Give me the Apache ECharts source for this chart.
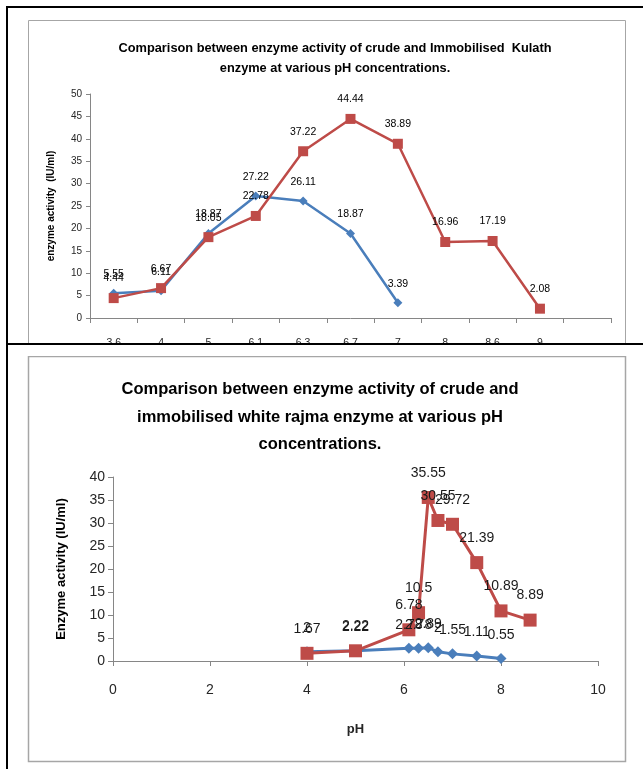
<!DOCTYPE html>
<html>
<head>
<meta charset="utf-8">
<script src="https://cdn.jsdelivr.net/npm/echarts@6/dist/echarts.min.js"></script>
<style>
html,body{margin:0;padding:0;background:#fff;}
#main{width:643px;height:769px;}
</style>
</head>
<body>
<div id="main"></div>
<script>
// chart 1 : kulath
var phKulath = ['3.6','4','5','6.1','6.3','6.7','7','8','8.6','9',''];
var crudeKulath = [5.55, 6.11, 18.87, 27.22, 26.11, 18.87, 3.39];
var immobKulath = [4.44, 6.67, 18.05, 22.78, 37.22, 44.44, 38.89, 16.96, 17.19, 2.08];

// chart 2 : white rajma
var phRajmaCrude = [4, 5, 6.1, 6.3, 6.5, 6.7, 7, 7.5, 8];
var crudeRajma = [2, 2.22, 2.78, 2.78, 2.89, 2, 1.55, 1.11, 0.55];
var phRajmaImmob = [4, 5, 6.1, 6.3, 6.5, 6.7, 7, 7.5, 8, 8.6];
var immobRajma = [1.67, 2.22, 6.78, 10.5, 35.55, 30.55, 29.72, 21.39, 10.89, 8.89];

var blue = '#4a7ebb', red = '#be4b48', axisGray = '#868686';
var font = 'Liberation Sans, Arial, sans-serif';

function pairs(xs, ys){
	var out = [];
	for (var i = 0; i < ys.length; i++) out.push([xs[i], ys[i]]);
	return out;
}

var chart = echarts.init(document.getElementById('main'));

var option = {
	backgroundColor: '#fff',
	animation: false,
	textStyle: {fontFamily: font},
	title: [
		{
			text: 'Comparison between enzyme activity of crude and Immobilised  Kulath\nenzyme at various pH concentrations.',
			left: 330, top: 33, textAlign: 'center',
			textStyle: {fontSize: 12.8, fontWeight: 'bold', color: '#000', lineHeight: 20, fontFamily: font}
		},
		{
			text: 'Comparison between enzyme activity of crude and\nimmobilised white rajma enzyme at various pH\nconcentrations.',
			left: 315, top: 371, textAlign: 'center',
			textStyle: {fontSize: 16.5, fontWeight: 'bold', color: '#000', lineHeight: 27.5, fontFamily: font}
		}
	],
	grid: [
		{left: 90, top: 94, width: 521, height: 224, containLabel: false},
		{left: 113, top: 477, width: 485, height: 184, containLabel: false}
	],
	xAxis: [
		{
			gridIndex: 0, type: 'category', data: phKulath, boundaryGap: true,
			axisLine: {lineStyle: {color: axisGray}},
			axisTick: {show: true, interval: 0, length: 5, lineStyle: {color: axisGray}},
			axisLabel: {interval: 0, fontSize: 10.5, color: '#262626', margin: 20}
		},
		{
			gridIndex: 1, type: 'value', min: 0, max: 10, interval: 2,
			name: 'pH', nameLocation: 'middle', nameGap: 62,
			nameTextStyle: {fontSize: 13, fontWeight: 'bold', color: '#262626'},
			splitLine: {show: false},
			axisLine: {lineStyle: {color: axisGray}},
			axisTick: {show: true, length: 5, lineStyle: {color: axisGray}},
			axisLabel: {fontSize: 14, color: '#262626', margin: 22}
		}
	],
	yAxis: [
		{
			gridIndex: 0, type: 'value', min: 0, max: 50, interval: 5,
			name: 'enzyme activity  (IU/ml)', nameLocation: 'middle', nameGap: 34, nameRotate: 90,
			nameTextStyle: {fontSize: 10, fontWeight: 'bold', color: '#000'},
			splitLine: {show: false},
			axisLine: {show: true, lineStyle: {color: axisGray}},
			axisTick: {show: true, length: 4, lineStyle: {color: axisGray}},
			axisLabel: {fontSize: 10, color: '#262626', margin: 8}
		},
		{
			gridIndex: 1, type: 'value', min: 0, max: 40, interval: 5,
			name: 'Enzyme activity (IU/ml)', nameLocation: 'middle', nameGap: 45, nameRotate: 90,
			nameTextStyle: {fontSize: 13, fontWeight: 'bold', color: '#000'},
			splitLine: {show: false},
			axisLine: {show: true, lineStyle: {color: axisGray}},
			axisTick: {show: true, length: 5, lineStyle: {color: axisGray}},
			axisLabel: {fontSize: 14, color: '#262626', margin: 8}
		}
	],
	series: [
		{
			name: 'crude', type: 'line', xAxisIndex: 0, yAxisIndex: 0,
			data: crudeKulath, symbol: 'diamond', symbolSize: 9,
			lineStyle: {color: blue, width: 2.5}, itemStyle: {color: blue},
			label: {show: true, position: 'top', distance: 9, fontSize: 10.5, color: '#000'}
		},
		{
			name: 'immobilised', type: 'line', xAxisIndex: 0, yAxisIndex: 0,
			data: immobKulath, symbol: 'rect', symbolSize: 10,
			lineStyle: {color: red, width: 2.5}, itemStyle: {color: red},
			label: {show: true, position: 'top', distance: 9, fontSize: 10.5, color: '#000'}
		},
		{
			name: 'crude', type: 'line', xAxisIndex: 1, yAxisIndex: 1,
			data: pairs(phRajmaCrude, crudeRajma), symbol: 'diamond', symbolSize: 11,
			lineStyle: {color: blue, width: 3}, itemStyle: {color: blue},
			label: {show: true, position: 'top', distance: 11, fontSize: 14, color: '#1a1a1a',
				formatter: function(p){ return p.value[1]; }}
		},
		{
			name: 'immobilised', type: 'line', xAxisIndex: 1, yAxisIndex: 1,
			data: pairs(phRajmaImmob, immobRajma), symbol: 'rect', symbolSize: 13,
			lineStyle: {color: red, width: 3}, itemStyle: {color: red},
			label: {show: true, position: 'top', distance: 11, fontSize: 14, color: '#1a1a1a',
				formatter: function(p){ return p.value[1]; }}
		}
	],
	graphic: [
		// gray chart frames
		{type: 'rect', z: 100, silent: true, shape: {x: 28.5, y: 20.5, width: 597, height: 330},
			style: {fill: 'none', stroke: '#a6a6a6', lineWidth: 1}},
		{type: 'rect', z: 100, silent: true, shape: {x: 28.5, y: 356.5, width: 597, height: 405},
			style: {fill: 'none', stroke: '#a6a6a6', lineWidth: 1.5}},
		// white band + black page lines
		{type: 'rect', z: 101, silent: true, shape: {x: 0, y: 344, width: 643, height: 12},
			style: {fill: '#fff'}},
		{type: 'rect', z: 102, silent: true, shape: {x: 6, y: 343, width: 637, height: 2},
			style: {fill: '#000'}},
		{type: 'rect', z: 102, silent: true, shape: {x: 6, y: 6, width: 637, height: 2},
			style: {fill: '#000'}},
		{type: 'rect', z: 102, silent: true, shape: {x: 6, y: 6, width: 2, height: 763},
			style: {fill: '#000'}}
	]
};

chart.setOption(option);
</script>
</body>
</html>
